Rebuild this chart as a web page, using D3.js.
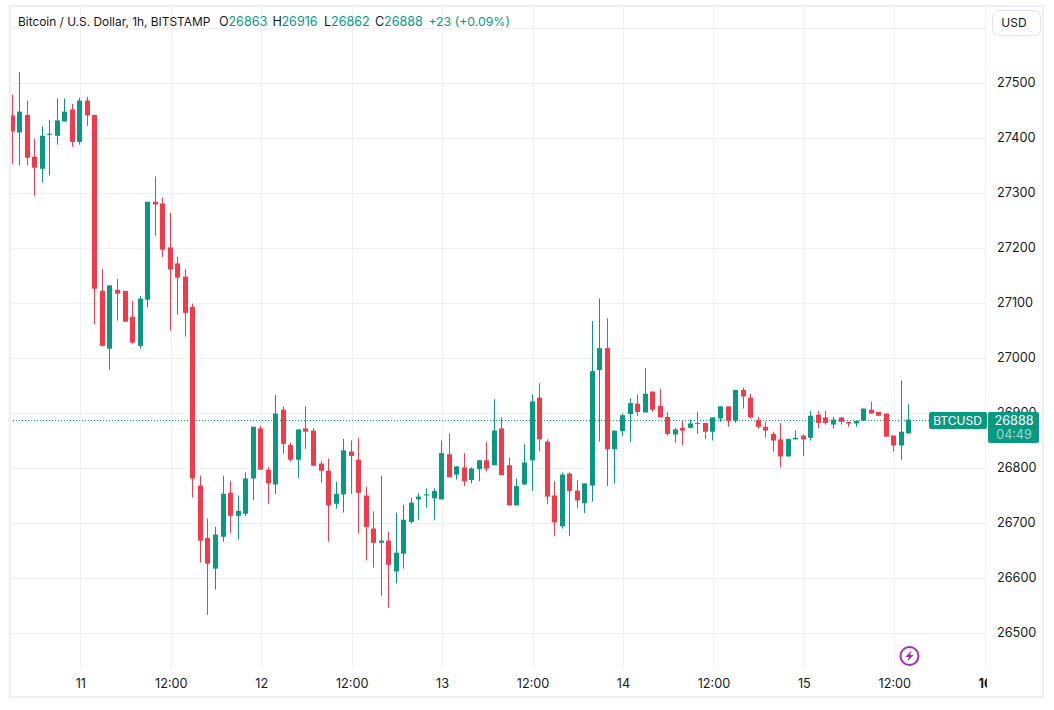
<!DOCTYPE html>
<html>
<head>
<meta charset="utf-8">
<script src="https://cdn.jsdelivr.net/npm/d3@7"></script>
<style>
  html, body { margin: 0; padding: 0; background: #fff; }
  svg { display: block; }
  text { font-family: Inter, "Noto Sans", sans-serif; }
  .axis .domain, .axis line { display: none; }
  .axis text { font-size: 12.7px; fill: #131722; }
</style>
</head>
<body>
<div id="chart"></div>
<script>
// Hourly candles, first bar 10 Oct 15:00
const START = Date.UTC(2023, 9, 10, 15);

const opens = [
  27441,27410,27442,27366,27344,27406,27404,27430,27452,27393,
  27468,27442,27122,27017,27124,27122,27075,27022,27106,27284,
  27281,27201,27172,27148,27093,26768,26673,26617,26675,26755,
  26713,26717,26781,26872,26797,26770,26906,26842,26815,26872,
  26868,26808,26795,26735,26752,26830,26815,26750,26690,26664,
  26668,26612,26644,26702,26743,26750,26745,26743,26825,26788,
  26801,26778,26798,26814,26805,26872,26805,26732,26770,26814,
  26928,26848,26750,26694,26790,26759,26736,26768,26978,27018,
  26834,26867,26898,26917,26901,26939,26913,26893,26861,26873,
  26873,26882,26882,26866,26890,26912,26886,26942,26928,26887,
  26875,26862,26852,26821,26852,26859,26855,26897,26892,26879,
  26892,26884,26881,26886,26906,26902,26899,26859,26841,26863
];
const highs = [
  27479,27520,27468,27399,27421,27433,27472,27472,27462,27473,
  27475,27442,27162,27132,27144,27122,27104,27113,27284,27330,
  27292,27264,27184,27162,27099,26786,26708,26693,26786,26777,
  26750,26792,26875,26877,26802,26933,26912,26846,26870,26912,
  26872,26813,26817,26775,26853,26850,26855,26766,26721,26786,
  26684,26719,26733,26746,26754,26763,26763,26850,26863,26803,
  26827,26801,26814,26847,26925,26892,26819,26781,26843,26934,
  26954,26852,26776,26792,26792,26778,26772,27067,27108,27072,
  26868,26899,26927,26934,26982,26939,26944,26902,26873,26886,
  26888,26902,26882,26892,26912,26912,26942,26946,26935,26893,
  26884,26866,26882,26853,26868,26861,26904,26904,26904,26893,
  26892,26884,26887,26908,26921,26902,26899,26859,26959,26916
];
const lows = [
  27353,27350,27350,27295,27319,27332,27388,27430,27384,27388,
  27422,27061,27021,26979,27068,27066,27026,27017,27092,27222,
  27184,27050,27079,27039,26746,26628,26533,26579,26666,26681,
  26670,26713,26742,26797,26735,26753,26826,26812,26782,26835,
  26804,26773,26666,26726,26719,26753,26681,26632,26619,26568,
  26546,26590,26617,26699,26705,26728,26705,26743,26783,26779,
  26767,26772,26776,26794,26805,26787,26732,26732,26770,26758,
  26830,26734,26676,26690,26676,26728,26718,26739,26848,26767,
  26772,26858,26847,26894,26901,26902,26892,26859,26846,26841,
  26872,26862,26853,26850,26884,26875,26882,26908,26890,26872,
  26855,26830,26801,26821,26852,26822,26850,26872,26879,26872,
  26879,26875,26875,26886,26899,26895,26857,26830,26815,26862
];
const closes = [
  27412,27448,27364,27346,27404,27408,27432,27448,27393,27468,
  27441,27126,27022,27132,27117,27066,27028,27108,27284,27279,
  27197,27161,27146,27082,26781,26668,26626,26679,26753,26713,
  26722,26781,26875,26797,26772,26899,26844,26815,26870,26866,
  26804,26795,26732,26753,26832,26822,26755,26693,26664,26668,
  26624,26646,26706,26737,26748,26752,26758,26827,26783,26803,
  26776,26799,26814,26799,26868,26787,26732,26767,26810,26921,
  26852,26748,26701,26788,26758,26741,26772,26976,27018,26834,
  26868,26896,26918,26902,26935,26906,26892,26862,26870,26868,
  26881,26881,26866,26892,26912,26886,26942,26930,26892,26875,
  26868,26850,26821,26853,26855,26852,26895,26882,26882,26888,
  26884,26881,26886,26908,26899,26895,26857,26841,26866,26888
];

const priceTicks = [26500, 26600, 26700, 26800, 26900, 27000, 27100, 27200, 27300, 27400, 27500];
const gridPrices = [26400, 26500, 26600, 26700, 26800, 26900, 27000, 27100, 27200, 27300, 27400, 27500, 27600];
const lastPrice = 26888;

const legendTitle = "Bitcoin / U.S. Dollar, 1h, BITSTAMP";
const legendLetters = ["O", "H", "L", "C"];
const legendValues = ["26863", "26916", "26862", "26888"];
const legendChange = "+23 (+0.09%)";

// Colours
const GREEN = "#089981";
const RED = "#F4394A";
const GRID = "#f0f1f5";
const FRAME = "#eeeef4";
const INK = "#131722";

const WIDTH = 1054;
const HEIGHT = 710;
const PANE = { left: 10, right: 987, top: 6, bottom: 668 };

const times = opens.map((_, i) => d3.utcHour.offset(new Date(START), i));
const dayTicks = d3.utcHour.range(new Date(Date.UTC(2023, 9, 11)), new Date(Date.UTC(2023, 9, 16, 1)), 12);

const xScale = d3.scaleUtc()
  .domain([times[0], times[times.length - 1]])
  .range([12.5, 909.4]);

const yScale = d3.scaleLinear()
  .domain([26500, 27500])
  .range([633, 83]);

const svg = d3.select("#chart").append("svg")
  .attr("width", WIDTH)
  .attr("height", HEIGHT);

svg.append("clipPath").attr("id", "pane-clip")
  .append("rect")
  .attr("x", PANE.left)
  .attr("y", PANE.top)
  .attr("width", PANE.right - PANE.left)
  .attr("height", PANE.bottom - PANE.top);

svg.append("clipPath").attr("id", "time-clip")
  .append("rect")
  .attr("x", PANE.left)
  .attr("y", PANE.bottom)
  .attr("width", PANE.right - PANE.left)
  .attr("height", 30);

// Grid
const grid = svg.append("g").attr("clip-path", "url(#pane-clip)");
grid.selectAll("line.h").data(gridPrices).join("line")
  .attr("x1", PANE.left)
  .attr("x2", PANE.right)
  .attr("y1", d => Math.round(yScale(d)) + 0.5)
  .attr("y2", d => Math.round(yScale(d)) + 0.5)
  .attr("stroke", GRID);
grid.selectAll("line.v").data(dayTicks).join("line")
  .attr("x1", d => Math.round(xScale(d)) + 0.5)
  .attr("x2", d => Math.round(xScale(d)) + 0.5)
  .attr("y1", PANE.top)
  .attr("y2", PANE.bottom)
  .attr("stroke", GRID);

// Last price line sits under the candles
svg.append("line")
  .attr("x1", PANE.left)
  .attr("x2", 930)
  .attr("y1", Math.round(yScale(lastPrice)) + 0.5)
  .attr("y2", Math.round(yScale(lastPrice)) + 0.5)
  .attr("stroke", GREEN)
  .attr("stroke-dasharray", "1 2");

// Candles
const plot = svg.append("g").attr("clip-path", "url(#pane-clip)");
const candles = plot.selectAll("g.candle").data(times).join("g")
  .attr("class", "candle")
  .attr("transform", d => `translate(${Math.round(xScale(d)) - 0.5},0)`)
  .attr("fill", (d, i) => closes[i] >= opens[i] ? GREEN : RED)
  .attr("stroke", (d, i) => closes[i] >= opens[i] ? GREEN : RED);

candles.append("line")
  .attr("y1", (d, i) => yScale(highs[i]))
  .attr("y2", (d, i) => yScale(lows[i]));

candles.append("rect")
  .attr("x", -2.5)
  .attr("width", 5)
  .attr("stroke", "none")
  .attr("y", (d, i) => yScale(Math.max(opens[i], closes[i])))
  .attr("height", (d, i) => Math.max(1, Math.abs(yScale(opens[i]) - yScale(closes[i]))));

// Axes
const priceAxis = d3.axisRight(yScale)
  .tickValues(priceTicks)
  .tickSize(0)
  .tickPadding(0)
  .tickFormat(d3.format("d"));
svg.append("g")
  .attr("class", "axis")
  .attr("transform", "translate(997,-0.5)")
  .call(priceAxis);

const timeAxis = d3.axisBottom(xScale)
  .tickValues(dayTicks)
  .tickSize(0)
  .tickPadding(0)
  .tickFormat(d => d.getUTCHours() === 0 ? String(d.getUTCDate()) : "12:00");
const timeG = svg.append("g")
  .attr("class", "axis")
  .attr("clip-path", "url(#time-clip)")
  .call(timeAxis);
timeG.selectAll("text")
  .attr("y", 688)
  .attr("dy", 0)
  .style("font-weight", d => d.getTime() === Date.UTC(2023, 9, 16) ? 700 : 400);

// Frame
svg.append("rect")
  .attr("x", 10)
  .attr("y", 6)
  .attr("width", 1033)
  .attr("height", 691)
  .attr("fill", "none")
  .attr("stroke", FRAME)
  .attr("stroke-width", 2);

// Legend
const legend = svg.append("g").attr("font-size", 12.6);
legend.append("text").attr("x", 18).attr("y", 26).attr("font-size", 11.9).attr("fill", INK).text(legendTitle);
const letterX = [219, 272.5, 324, 375];
const valueX = [228.4, 281.4, 331, 384];
legendLetters.forEach((l, i) => {
  legend.append("text").attr("x", letterX[i]).attr("y", 26).attr("fill", INK).text(l);
  legend.append("text").attr("x", valueX[i]).attr("y", 26).attr("fill", GREEN).text(legendValues[i]);
});
legend.append("text").attr("x", 428.4).attr("y", 26).attr("font-size", 12.3).attr("fill", GREEN).text(legendChange);

// Currency button
svg.append("rect")
  .attr("x", 992.5).attr("y", 10.5)
  .attr("width", 48).attr("height", 25)
  .attr("rx", 6)
  .attr("fill", "#fff")
  .attr("stroke", "#e0e3eb");
svg.append("text")
  .attr("x", 1014).attr("y", 27)
  .attr("text-anchor", "middle")
  .attr("font-size", 12)
  .attr("fill", INK)
  .text("USD");

// Last price tags
svg.append("rect")
  .attr("x", 929).attr("y", 412)
  .attr("width", 58).attr("height", 17)
  .attr("rx", 2)
  .attr("fill", GREEN);
svg.append("text")
  .attr("x", 957.5).attr("y", 425)
  .attr("text-anchor", "middle")
  .attr("font-size", 12)
  .attr("fill", "#fff")
  .text("BTCUSD");
svg.append("rect")
  .attr("x", 988).attr("y", 412)
  .attr("width", 51).attr("height", 31)
  .attr("rx", 2)
  .attr("fill", GREEN);
svg.append("text")
  .attr("x", 1014).attr("y", 425)
  .attr("text-anchor", "middle")
  .attr("font-size", 12.7)
  .attr("fill", "#fff")
  .text(String(lastPrice));
svg.append("text")
  .attr("x", 1014).attr("y", 439)
  .attr("text-anchor", "middle")
  .attr("font-size", 12.5)
  .attr("fill", "#9fd8cd")
  .text("04:49");

// Lightning badge
const badge = svg.append("g").attr("transform", "translate(909.5,656)");
badge.append("circle")
  .attr("r", 9)
  .attr("fill", "#fff")
  .attr("stroke", "#a32db5")
  .attr("stroke-width", 2);
badge.append("path")
  .attr("d", "M2.2,-5.5 L-4.2,1 L-0.6,1 L-2.2,5.5 L4.2,-1 L0.6,-1 Z")
  .attr("fill", "#a32db5");
</script>
</body>
</html>
